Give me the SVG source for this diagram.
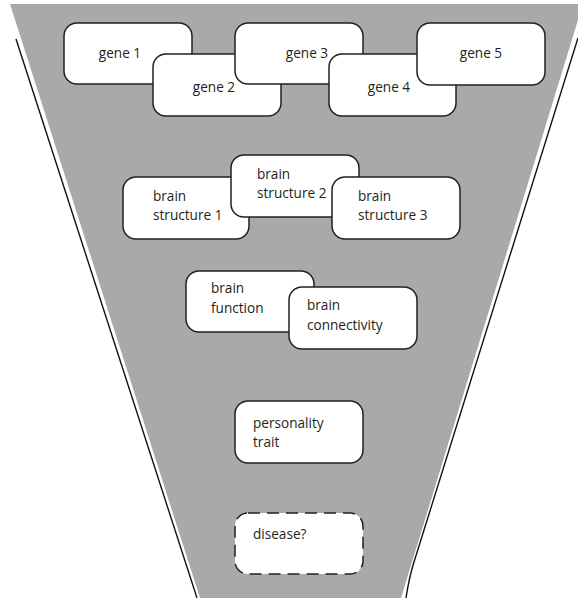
<svg xmlns="http://www.w3.org/2000/svg" width="578" height="598" viewBox="0 0 578 598">
  <style>
    .box { fill: #ffffff; stroke: #231f20; stroke-width: 1.5; }
    .dash { fill: #ffffff; stroke: #231f20; stroke-width: 1.5; stroke-dasharray: 12 7; }
    .lbl { font-family: "Open Sans", "Liberation Sans", sans-serif; font-size: 13.6px; fill: #231f20; }
    .mid { text-anchor: middle; }
    .edge { fill: none; stroke: #111111; stroke-width: 1.4; }
  </style>
  <rect x="0" y="0" width="578" height="598" fill="#ffffff"/>
  <g id="funnel">
    <polygon points="10,4 578,4 578,20 401,598 200,598" fill="#a7a9aa"/>
    <line class="edge" x1="16" y1="39" x2="197" y2="598"/>
    <path class="edge" d="M578,38 L414,562 Q409,578 406,598"/>
  </g>
  <g id="gene1">
    <rect class="box" x="64" y="23" width="128" height="61" rx="13"/>
    <text class="lbl mid" x="120" y="58">gene 1</text>
  </g>
  <g id="gene2">
    <rect class="box" x="153" y="54" width="128" height="62" rx="13"/>
    <text class="lbl mid" x="214" y="92">gene 2</text>
  </g>
  <g id="gene3">
    <rect class="box" x="235" y="23" width="128" height="61" rx="13"/>
    <text class="lbl mid" x="307" y="58">gene 3</text>
  </g>
  <g id="gene4">
    <rect class="box" x="329" y="54" width="127" height="62" rx="13"/>
    <text class="lbl mid" x="389" y="92">gene 4</text>
  </g>
  <g id="gene5">
    <rect class="box" x="417" y="23" width="128" height="62" rx="13"/>
    <text class="lbl mid" x="481" y="58">gene 5</text>
  </g>
  <g id="brain-structure-1">
    <rect class="box" x="123" y="177" width="126" height="62" rx="13"/>
    <text class="lbl" x="153" y="201">brain</text>
    <text class="lbl" x="153" y="220">structure 1</text>
  </g>
  <g id="brain-structure-2">
    <rect class="box" x="231" y="155" width="128" height="62" rx="13"/>
    <text class="lbl" x="257" y="179">brain</text>
    <text class="lbl" x="257" y="198">structure 2</text>
  </g>
  <g id="brain-structure-3">
    <rect class="box" x="332" y="177" width="128" height="62" rx="13"/>
    <text class="lbl" x="358" y="201">brain</text>
    <text class="lbl" x="358" y="220">structure 3</text>
  </g>
  <g id="brain-function">
    <rect class="box" x="186" y="271" width="128" height="61" rx="13"/>
    <text class="lbl" x="211" y="293">brain</text>
    <text class="lbl" x="211" y="313">function</text>
  </g>
  <g id="brain-connectivity">
    <rect class="box" x="289" y="287" width="128" height="62" rx="13"/>
    <text class="lbl" x="307" y="310">brain</text>
    <text class="lbl" x="307" y="330">connectivity</text>
  </g>
  <g id="personality-trait">
    <rect class="box" x="235" y="401" width="128" height="62" rx="13"/>
    <text class="lbl" x="253" y="428">personality</text>
    <text class="lbl" x="253" y="447">trait</text>
  </g>
  <g id="disease">
    <rect class="dash" x="235" y="513" width="128" height="61" rx="13"/>
    <text class="lbl" x="253" y="539">disease?</text>
  </g>
  <g id="connectors"/>
</svg>
